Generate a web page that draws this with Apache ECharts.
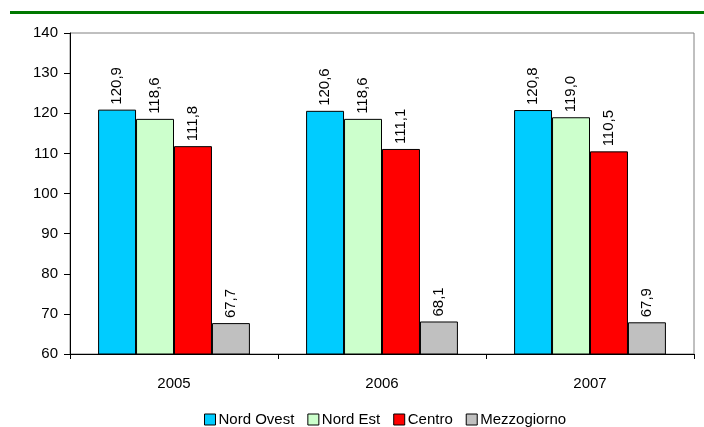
<!DOCTYPE html>
<html>
<head>
<meta charset="utf-8">
<script src="https://cdn.jsdelivr.net/npm/echarts@6/dist/echarts.min.js"></script>
<style>
  html, body { margin: 0; padding: 0; background: #fff; }
  #chart { width: 704px; height: 427px; }
</style>
</head>
<body>
<div id="chart"></div>
<script>
// Years on the category axis
const years = ['2005', '2006', '2007'];

// Index values by macro-area
const nordOvest = [120.9, 120.6, 120.8];
const nordEst = [118.6, 118.6, 119.0];
const centro = [111.8, 111.1, 110.5];
const mezzogiorno = [67.7, 68.1, 67.9];

const seriesNames = ['Nord Ovest', 'Nord Est', 'Centro', 'Mezzogiorno'];
const seriesColors = ['#00CCFF', '#CCFFCC', '#FF0000', '#C0C0C0'];

const FONT = '"Liberation Sans", Arial, sans-serif';
const FS = 15;

const chart = echarts.init(document.getElementById('chart'), null, { renderer: 'canvas' });

const seriesData = [nordOvest, nordEst, centro, mezzogiorno];

const series = seriesData.map((values, i) => ({
  name: seriesNames[i],
  type: 'bar',
  data: values,
  barGap: '0%',
  barCategoryGap: '27%',
  itemStyle: { color: seriesColors[i], borderColor: '#000', borderWidth: 1 },
  label: {
    show: true,
    position: 'top',
    rotate: 90,
    align: 'left',
    verticalAlign: 'middle',
    distance: 5,
    color: '#000',
    fontFamily: FONT,
    fontSize: FS,
    formatter: p => p.value.toFixed(1).replace('.', ',')
  }
}));

chart.setOption({
  animation: false,
  backgroundColor: '#fff',
  textStyle: { fontFamily: FONT },
  graphic: [{
    type: 'line',
    shape: { x1: 10, y1: 12.5, x2: 704, y2: 12.5 },
    style: { stroke: '#007800', lineWidth: 3 }
  }],
  grid: {
    left: 70, right: 10, top: 33, bottom: 73,
    show: true, borderColor: '#808080', borderWidth: 1, backgroundColor: 'transparent'
  },
  legend: {
    bottom: 0,
    left: 204,
    padding: 0,
    icon: 'rect',
    itemWidth: 11,
    itemHeight: 11,
    itemGap: 13,
    textStyle: { fontFamily: FONT, fontSize: FS, color: '#000', padding: [0, 0, 0, -2] },
    itemStyle: { borderColor: '#000', borderWidth: 1 },
    data: seriesNames
  },
  xAxis: {
    type: 'category',
    data: years,
    axisLine: { lineStyle: { color: '#000', width: 1 } },
    axisTick: { show: true, length: 5, lineStyle: { color: '#000' } },
    axisLabel: { color: '#000', fontFamily: FONT, fontSize: FS, margin: 22 }
  },
  yAxis: {
    type: 'value',
    min: 60, max: 140, interval: 10,
    splitLine: { show: false },
    axisLine: { show: true, lineStyle: { color: '#000', width: 1 } },
    axisTick: { show: true, length: 6, lineStyle: { color: '#000' } },
    axisLabel: { color: '#000', fontFamily: FONT, fontSize: FS, margin: 12 }
  },
  series: series
});
</script>
</body>
</html>
